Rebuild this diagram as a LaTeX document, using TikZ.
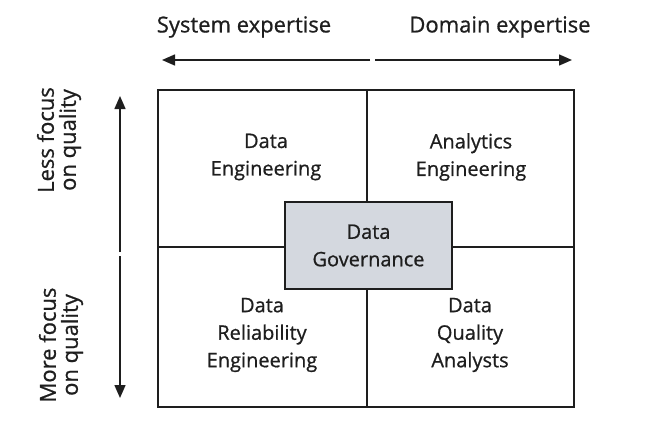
\documentclass[tikz,border=0pt]{standalone}
\usepackage{fontspec}
\setmainfont{Open Sans}[FakeBold=0.8]
\usetikzlibrary{arrows.meta}
\definecolor{govfill}{HTML}{D4D8DF}
\definecolor{ink}{HTML}{1E1E1E}
\begin{document}
\begin{tikzpicture}[x=1pt,y=-1pt,
  cell/.style={draw=ink,line width=1.8pt,rectangle,inner sep=0pt},
  lbl/.style={font=\fontsize{20}{27.5}\selectfont,align=center,text=ink,inner sep=0pt},
  axis/.style={draw=ink,line width=1.5pt,-{Triangle[length=13pt,width=11pt]}},
  axislbl/.style={font=\fontsize{22}{22}\selectfont,align=center,text=ink,inner sep=0pt}]
\useasboundingbox (0,0) rectangle (650,442);
% quadrants
\node[cell,minimum width=209pt,minimum height=157pt] (tl) at (262.5,168.5) {};
\node[cell,minimum width=207pt,minimum height=157pt] (tr) at (470.5,168.5) {};
\node[cell,minimum width=209pt,minimum height=160pt] (bl) at (262.5,327) {};
\node[cell,minimum width=207pt,minimum height=160pt] (br) at (470.5,327) {};
% texts
\node[lbl] (tlt) at (266,157) {Data\\Engineering};
\node[lbl] (trt) at (471,157) {Analytics\\Engineering};
\node[lbl] (blt) at (262,335) {Data\\Reliability\\Engineering};
\node[lbl] (brt) at (470,335) {Data\\Quality\\Analysts};
% center
\node[cell,fill=govfill,minimum width=167pt,minimum height=87pt,lbl,draw=ink,line width=1.8pt] (gov) at (368.5,245.5) {Data\\Governance};
% horizontal axis
\coordinate (hc1) at (370,60);
\coordinate (hc2) at (375,60);
\coordinate (hl) at (162,60);
\coordinate (hr) at (572,60);
\draw[axis] (hc1) -- (hl);
\draw[axis] (hc2) -- (hr);
\node[axislbl] (sys) at (244,27) {System expertise};
\node[axislbl] (dom) at (500,27) {Domain expertise};
% vertical axis
\coordinate (vc1) at (120,252);
\coordinate (vc2) at (120,256);
\coordinate (vt) at (120,96);
\coordinate (vb) at (120,398);
\draw[axis] (vc1) -- (vt);
\draw[axis] (vc2) -- (vb);
\node[axislbl,rotate=90] (less) at (59,140) {Less focus\\on quality};
\node[axislbl,rotate=90] (more) at (61,345) {More focus\\on quality};
\end{tikzpicture}
\end{document}
